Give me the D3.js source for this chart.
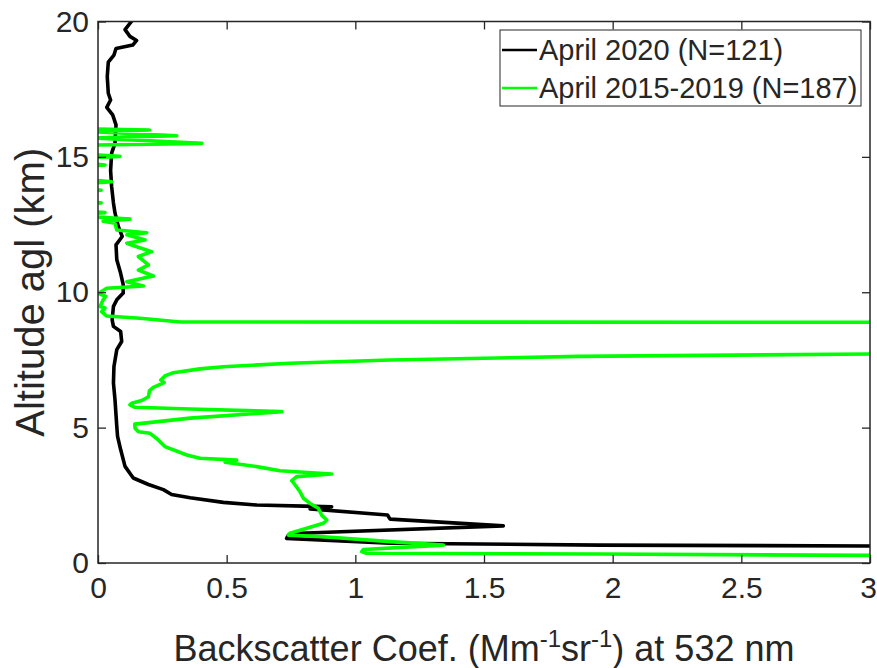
<!DOCTYPE html>
<html>
<head>
<meta charset="utf-8">
<script src="https://cdn.jsdelivr.net/npm/d3@7"></script>
<style>
  html, body { margin: 0; padding: 0; background: #fff; }
  svg { display: block; }
  text { font-family: "Liberation Sans", Arial, Helvetica, sans-serif; fill: #262626; }
</style>
</head>
<body>
<svg id="chart" width="877" height="668"></svg>
<script>
// Mean lidar backscatter profiles: [altitude km, backscatter Mm^-1 sr^-1]
const april2020 = [
  [20.0, 0.13], [19.7, 0.105], [19.45, 0.124], [19.3, 0.15], [19.13, 0.135],
  [19.0, 0.07], [18.76, 0.062], [18.5, 0.04], [17.96, 0.036], [17.35, 0.04],
  [17.1, 0.049], [16.83, 0.034], [16.55, 0.057], [16.18, 0.07], [15.5, 0.066],
  [15.14, 0.053], [14.5, 0.049], [13.9, 0.053], [13.3, 0.06], [12.93, 0.066],
  [12.43, 0.079], [12.06, 0.094], [11.75, 0.07], [11.2, 0.073], [10.7, 0.088],
  [10.28, 0.098], [9.97, 0.098], [9.72, 0.073], [9.48, 0.06], [8.98, 0.055],
  [8.74, 0.06], [8.55, 0.088], [8.18, 0.092], [7.88, 0.073], [7.26, 0.062],
  [6.65, 0.06], [6.03, 0.066], [5.05, 0.073], [4.68, 0.076], [4.19, 0.088],
  [3.57, 0.105], [3.14, 0.137], [2.9, 0.196], [2.71, 0.254], [2.53, 0.286],
  [2.41, 0.358], [2.24, 0.487], [2.14, 0.617], [2.1, 0.8], [2.08, 0.908],
  [2.0, 0.824], [1.77, 1.125], [1.62, 1.135], [1.37, 1.575], [1.1, 0.785],
  [1.03, 0.74], [0.91, 0.733], [0.73, 1.135], [0.66, 1.95], [0.63, 3.0],
  [0.6, 3.4]
];

const april2015to2019 = [
  [16.1, -0.1], [16.03, -0.02], [15.99, 0.2], [15.93, -0.02], [15.78, 0.306],
  [15.7, -0.02], [15.5, 0.403], [15.43, -0.05], [15.1, -0.05], [15.02, 0.085],
  [14.96, -0.05], [14.75, -0.03], [14.7, 0.027], [14.65, -0.05], [14.15, -0.03],
  [14.08, 0.053], [14.02, -0.05], [13.8, -0.02], [13.77, 0.012], [13.74, -0.03],
  [13.33, -0.02], [13.3, 0.012], [13.27, -0.03], [12.98, -0.02], [12.94, 0.027],
  [12.9, -0.02], [12.78, -0.01], [12.7, 0.124], [12.62, 0.02], [12.55, 0.066],
  [12.3, 0.073], [12.2, 0.189], [12.12, 0.112], [11.93, 0.183], [11.81, 0.112],
  [11.68, 0.15], [11.5, 0.208], [11.32, 0.157], [11.01, 0.196], [10.82, 0.157],
  [10.6, 0.215], [10.39, 0.112], [10.23, 0.176], [10.15, 0.034], [9.96, 0.001],
  [9.85, 0.03], [9.72, 0.02], [9.47, 0.008], [9.42, 0.027], [9.28, 0.014],
  [9.12, 0.034], [9.04, 0.163], [8.9, 0.32], [8.88, 6.0], [7.8, 6.0],
  [7.76, 3.5], [7.72, 3.0], [7.63, 1.87], [7.5, 1.134], [7.38, 0.746],
  [7.25, 0.487], [7.17, 0.396], [7.03, 0.293], [6.91, 0.26], [6.76, 0.244],
  [6.66, 0.257], [6.49, 0.215], [6.37, 0.2], [6.14, 0.196], [6.0, 0.17],
  [5.9, 0.131], [5.84, 0.124], [5.75, 0.144], [5.69, 0.358], [5.59, 0.714],
  [5.35, 0.358], [5.13, 0.143], [4.98, 0.144], [4.85, 0.157], [4.79, 0.202],
  [4.6, 0.228], [4.3, 0.26], [3.99, 0.345], [3.87, 0.396], [3.8, 0.539],
  [3.72, 0.494], [3.56, 0.617], [3.41, 0.707], [3.29, 0.908], [3.19, 0.772],
  [3.04, 0.753], [2.88, 0.766], [2.63, 0.785], [2.39, 0.798], [2.2, 0.824],
  [2.02, 0.856], [1.77, 0.869], [1.59, 0.889], [1.47, 0.876], [1.1, 0.746],
  [1.03, 0.74], [0.97, 0.876], [0.79, 1.135], [0.66, 1.342], [0.5, 1.031],
  [0.42, 1.025], [0.36, 1.043], [0.33, 1.95], [0.28, 3.0], [0.25, 3.5]
];

const xTicks = [0, 0.5, 1, 1.5, 2, 2.5, 3];
const yTicks = [0, 5, 10, 15, 20];
const seriesNames = ["April 2020 (N=121)", "April 2015-2019 (N=187)"];
const seriesColors = ["#000000", "#00ff00"];

const svg = d3.select("#chart");
const plot = { left: 98, right: 870, top: 21.5, bottom: 563 };

const x = d3.scaleLinear().domain([0, 3]).range([plot.left, plot.right]);
const y = d3.scaleLinear().domain([0, 20]).range([plot.bottom, plot.top]);

svg.append("defs").append("clipPath").attr("id", "plotClip")
  .append("rect")
  .attr("x", plot.left).attr("y", plot.top)
  .attr("width", plot.right - plot.left).attr("height", plot.bottom - plot.top);

const line = d3.line().x(d => x(d[1])).y(d => y(d[0]));

const curves = svg.append("g").attr("clip-path", "url(#plotClip)");
[april2020, april2015to2019].forEach((data, i) => {
  curves.append("path")
    .datum(data)
    .attr("d", line)
    .attr("fill", "none")
    .attr("stroke", seriesColors[i])
    .attr("stroke-width", 3.6)
    .attr("stroke-linejoin", "round")
    .attr("stroke-linecap", "round");
});

// Boxed axes with inward ticks
const axisColor = "#262626";
const tickFont = 30;
function styleAxis(g) {
  g.select(".domain").remove();
  g.selectAll(".tick line").attr("stroke", axisColor).attr("stroke-width", 1.3);
  g.selectAll(".tick text").attr("fill", axisColor)
    .style("font-size", tickFont + "px")
    .style("font-family", '"Liberation Sans", Arial, sans-serif');
}

const xAxisG = svg.append("g").attr("transform", `translate(0,${plot.bottom})`)
  .call(d3.axisBottom(x).tickValues(xTicks).tickSize(-8).tickPadding(14).tickFormat(d3.format("")))
  .call(styleAxis);
xAxisG.selectAll(".tick text").attr("dy", "0.71em");
// keep the last label inside the canvas edge
xAxisG.selectAll(".tick text").filter(d => d === 3).attr("dx", -2);

svg.append("g").attr("transform", `translate(0,${plot.top})`)
  .call(d3.axisTop(x).tickValues(xTicks).tickSize(-8).tickFormat(""))
  .call(styleAxis);

svg.append("g").attr("transform", `translate(${plot.left},0)`)
  .call(d3.axisLeft(y).tickValues(yTicks).tickSize(-8).tickPadding(9).tickFormat(d3.format("")))
  .call(styleAxis);

svg.append("g").attr("transform", `translate(${plot.right},0)`)
  .call(d3.axisRight(y).tickValues(yTicks).tickSize(-8).tickFormat(""))
  .call(styleAxis);

svg.append("rect")
  .attr("x", plot.left).attr("y", plot.top)
  .attr("width", plot.right - plot.left).attr("height", plot.bottom - plot.top)
  .attr("fill", "none").attr("stroke", axisColor).attr("stroke-width", 1.5);

// Axis titles
const xLabel = svg.append("text")
  .attr("x", (plot.left + plot.right) / 2).attr("y", 661)
  .attr("text-anchor", "middle")
  .style("font-size", "36px");
xLabel.append("tspan").text("Backscatter Coef. (Mm");
xLabel.append("tspan").attr("dy", -14).style("font-size", "24px").text("-1");
xLabel.append("tspan").attr("dy", 14).text("sr");
xLabel.append("tspan").attr("dy", -14).style("font-size", "24px").text("-1");
xLabel.append("tspan").attr("dy", 14).text(") at 532 nm");

svg.append("text")
  .attr("transform", `translate(44,${(plot.top + plot.bottom) / 2}) rotate(-90)`)
  .attr("text-anchor", "middle")
  .style("font-size", "40px")
  .text("Altitude agl (km)");

// Legend
const legend = svg.append("g");
legend.append("rect")
  .attr("x", 500).attr("y", 30).attr("width", 361).attr("height", 76)
  .attr("fill", "#fff").attr("stroke", axisColor).attr("stroke-width", 1);
seriesNames.forEach((name, i) => {
  const cy = 50 + i * 38;
  legend.append("line")
    .attr("x1", 502).attr("x2", 537).attr("y1", cy).attr("y2", cy)
    .attr("stroke", seriesColors[i]).attr("stroke-width", 2.5);
  legend.append("text")
    .attr("x", 539).attr("y", cy).attr("dy", "0.36em")
    .style("font-size", "29px")
    .text(name);
});
</script>
</body>
</html>
